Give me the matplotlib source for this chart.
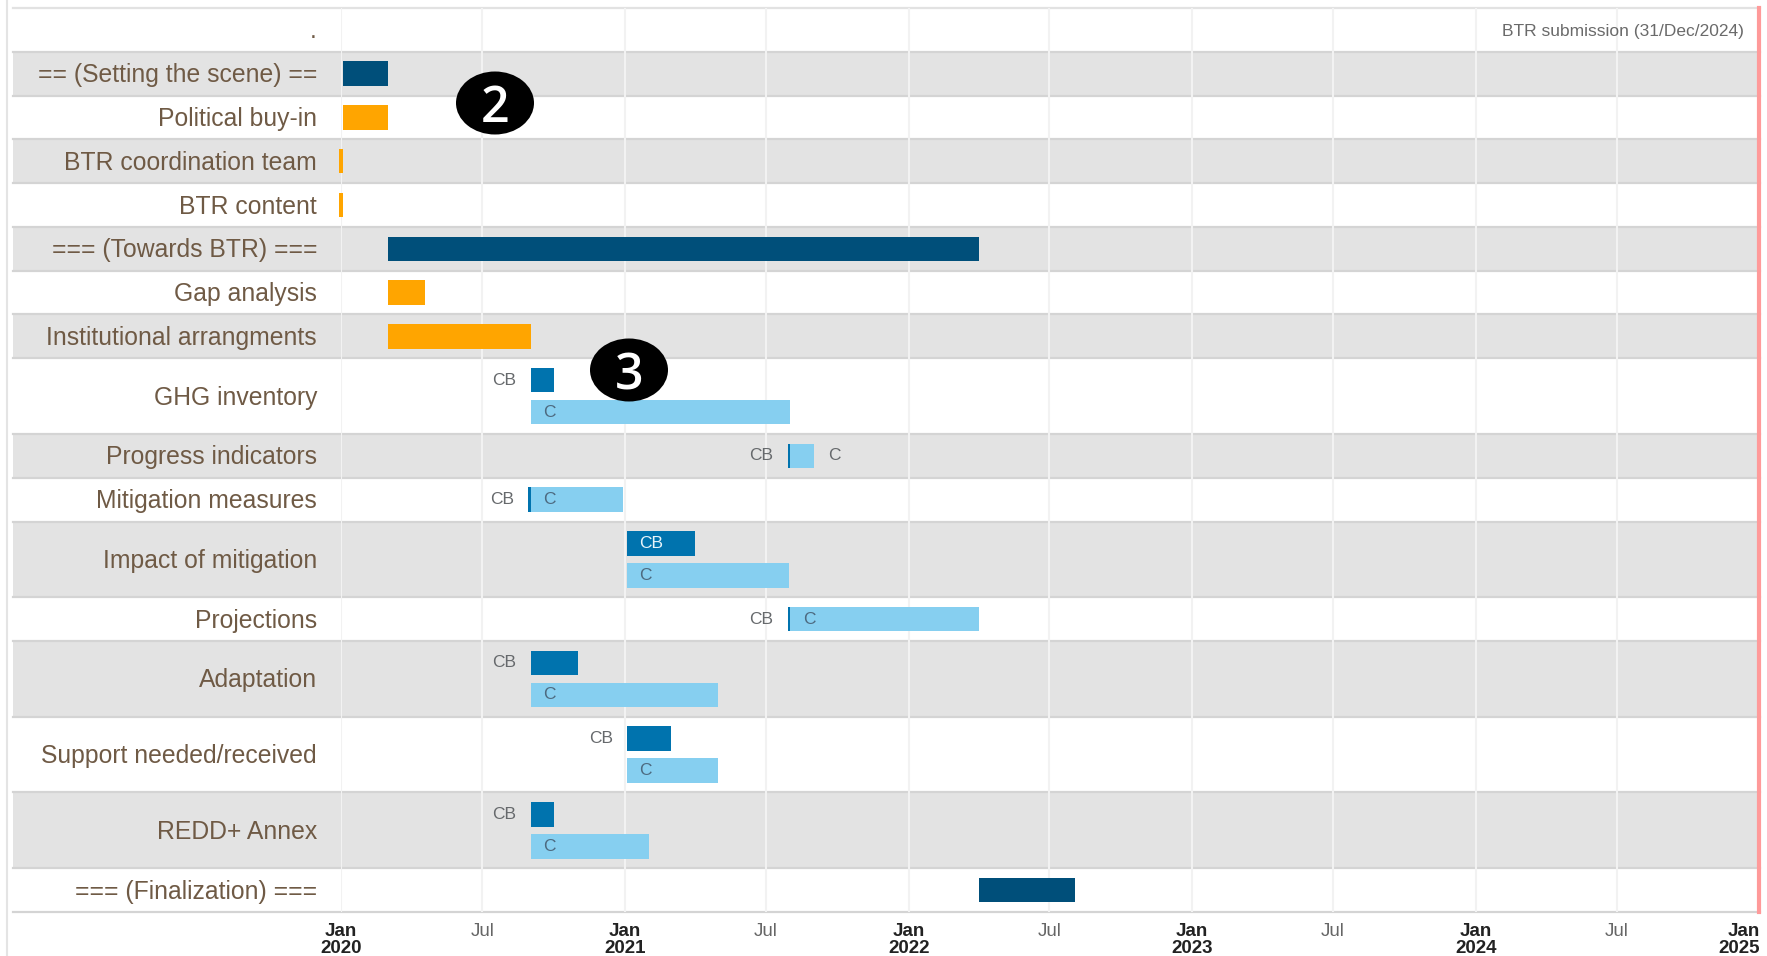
import datetime as dt
import matplotlib
matplotlib.use("Agg")
import matplotlib.pyplot as plt
import matplotlib.dates as mdates
from matplotlib.patches import Ellipse, Rectangle

plt.rcParams['font.family'] = ['Liberation Sans', 'DejaVu Sans']

W, H = 1767, 956

# one row per activity, bars are (series, start, end)
row_labels = [".", "== (Setting the scene) ==", "Political buy-in", "BTR coordination team",
              "BTR content", "=== (Towards BTR) ===", "Gap analysis", "Institutional arrangments",
              "GHG inventory", "Progress indicators", "Mitigation measures", "Impact of mitigation",
              "Projections", "Adaptation", "Support needed/received", "REDD+ Annex",
              "=== (Finalization) ==="]

phase_rows = [1, 5, 16]
phase_start = ["2020-01-03", "2020-03-01", "2022-04-01"]
phase_end = ["2020-03-01", "2022-04-01", "2022-08-03"]

task_rows = [2, 3, 4, 6, 7]
task_start = ["2020-01-03", "2019-12-29", "2019-12-29", "2020-03-01", "2020-03-01"]
task_end = ["2020-03-01", "2020-01-03", "2020-01-03", "2020-04-18", "2020-09-01"]

cb_rows = [8, 9, 10, 11, 12, 13, 14, 15]
cb_start = ["2020-09-01", "2021-07-29", "2020-08-29", "2021-01-03", "2021-07-29", "2020-09-01", "2021-01-03", "2020-09-01"]
cb_end = ["2020-10-01", "2021-08-01", "2020-09-01", "2021-04-01", "2021-08-01", "2020-11-01", "2021-03-01", "2020-10-01"]

c_rows = [8, 9, 10, 11, 12, 13, 14, 15]
c_start = ["2020-09-01", "2021-08-01", "2020-09-01", "2021-01-03", "2021-08-01", "2020-09-01", "2021-01-03", "2020-09-01"]
c_end = ["2021-08-01", "2021-09-01", "2020-12-29", "2021-07-31", "2022-04-01", "2021-05-01", "2021-05-01", "2021-02-01"]

split_rows = [8, 11, 13, 14, 15]  # rows where CB and C sit on separate lines

tick_dates = ["2020-01-01", "2020-07-01", "2021-01-01", "2021-07-01", "2022-01-01", "2022-07-01",
              "2023-01-01", "2023-07-01", "2024-01-01", "2024-07-01", "2025-01-01"]
tick_labels = ["Jan\n2020", "Jul", "Jan\n2021", "Jul", "Jan\n2022", "Jul",
               "Jan\n2023", "Jul", "Jan\n2024", "Jul", "Jan\n2025"]

submission = "2024-12-31"
submission_label = "BTR submission (31/Dec/2024)"

NAVY, ORANGE, CB_BLUE, C_BLUE = "#004f7a", "#ffa500", "#0073ae", "#86cff0"
TEXT = "#6f5a45"


def d(s):
    return mdates.date2num(dt.date.fromisoformat(s))


# row tops from the row heights
tops = []
y = 0
for i in range(len(row_labels)):
    tops.append(y)
    y += 1.73 if i in split_rows else 1
total = y


def centre(i):
    return tops[i] + (1.73 if i in split_rows else 1) / 2


fig = plt.figure(figsize=(W / 100, H / 100), dpi=100)
ax = fig.add_axes([341 / W, 1 - 912 / H, (1760 - 341) / W, (912 - 8) / H])
# x scale: Jan 2020 at the axes left edge, 31 Dec 2024 at the right edge
ax.set_xlim(d("2020-01-01"), d(submission))
ax.set_ylim(total, 0)
for s in ax.spines.values():
    s.set_visible(False)
left = -(341 - 13) / (1760 - 341)

# striped rows reach over the label column
for i in range(len(row_labels)):
    h = 1.73 if i in split_rows else 1
    ax.add_patch(Rectangle((left, tops[i]), 1 - left, h, transform=ax.get_yaxis_transform(),
                           facecolor="#e3e3e3" if i % 2 == 1 else "white",
                           edgecolor="none", clip_on=False, zorder=0))
    ax.plot([left, 1], [tops[i] + h] * 2, transform=ax.get_yaxis_transform(),
            color="#d4d4d4", lw=1.6, clip_on=False, zorder=1)
    ax.text(-24 / (1760 - 341), centre(i) + 0.035, row_labels[i], transform=ax.get_yaxis_transform(),
            ha="right", va="center", fontsize=17.8, color=TEXT)
ax.plot([left, 1], [0, 0], transform=ax.get_yaxis_transform(), color="#e2e2e2", lw=1.6,
        clip_on=False, zorder=1)

for t in tick_dates:
    ax.axvline(d(t), color="#f2f2f2", lw=1.5, zorder=2)

BAR = 0.56
for r, s, e in zip(phase_rows, phase_start, phase_end):
    ax.barh(centre(r), d(e) - d(s), left=d(s), height=BAR, color=NAVY, zorder=3)
for r, s, e in zip(task_rows, task_start, task_end):
    ax.barh(centre(r), d(e) - d(s), left=d(s), height=BAR, color=ORANGE, zorder=3, clip_on=False)


def label_bar(name, yc, s, e):
    # long bars carry their label inside, short ones beside them
    if d(e) - d(s) >= 70:
        off = 24 if name == "CB" else 19
        col = "#e8f4fa" if name == "CB" else "#4d6a80"
        ax.annotate(name, (d(s), yc), xytext=(off * 0.72, 0), textcoords="offset points",
                    ha="center", va="center", fontsize=12.5, color=col, zorder=5)
    elif name == "CB":
        ax.annotate(name, (d(s), yc), xytext=(-14 * 0.72, 0), textcoords="offset points",
                    ha="right", va="center", fontsize=12.5, color="#66696c", zorder=5)
    else:
        ax.annotate(name, (d(e), yc), xytext=(14 * 0.72, 0), textcoords="offset points",
                    ha="left", va="center", fontsize=12.5, color="#66696c", zorder=5)


for r, s, e in zip(c_rows, c_start, c_end):
    yc = centre(r) + (0.365 if r in split_rows else 0)
    ax.barh(yc, d(e) - d(s), left=d(s), height=BAR, color=C_BLUE, zorder=3)
    label_bar("C", yc, s, e)
for r, s, e in zip(cb_rows, cb_start, cb_end):
    yc = centre(r) - (0.365 if r in split_rows else 0)
    ax.barh(yc, d(e) - d(s), left=d(s), height=BAR, color=CB_BLUE, zorder=4)
    label_bar("CB", yc, s, e)

ax.axvline(d(submission), color="#ff9a9a", lw=3, zorder=6, clip_on=False)
ax.annotate(submission_label, (d(submission), centre(0)), xytext=(-11, -1), textcoords="offset points",
            ha="right", va="center", fontsize=12.5, color="#6a6a6a", zorder=5)

ax.set_yticks([])
ax.set_xticks([d(t) for t in tick_dates])
ax.set_xticklabels(tick_labels, linespacing=1.0)
ax.tick_params(axis="x", length=0, pad=8, labelsize=13.5)
ticks = ax.get_xticklabels()
for t, lab in zip(ticks, tick_labels):
    if lab == "Jul":
        t.set_color("#666666")
    else:
        t.set_color("#222222")
        t.set_fontweight("bold")
ticks[-1].set_ha("right")

# numbered badges, placed in figure pixels
for num, cx, cy in [("2", 495, 103), ("3", 629, 370)]:
    fig.add_artist(Ellipse((cx / W, 1 - cy / H), 78 / W, 63 / H, transform=fig.transFigure,
                           facecolor="black", edgecolor="none", zorder=10))
    fig.text(cx / W, 1 - cy / H, num, color="white", fontsize=36, ha="center", va="center_baseline",
             family="Open Sans", fontweight="semibold", zorder=11)

# faint frame line at the left of the page
fig.add_artist(plt.Line2D([7 / W, 7 / W], [0, 1], color="#e4e4e4", lw=1.5))

fig.savefig("out.png", dpi=100)
